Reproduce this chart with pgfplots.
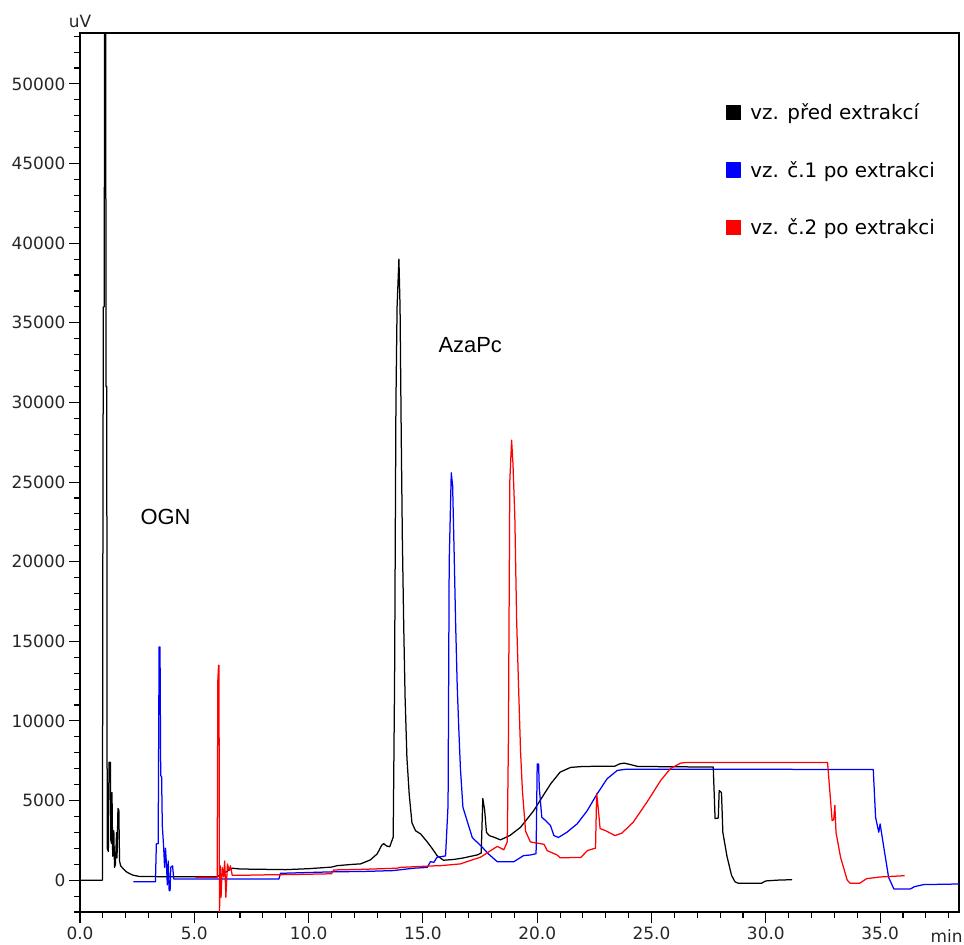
\documentclass[border=0pt]{standalone}
\usepackage{fontspec}
\setmainfont{DejaVu Sans}
\newfontfamily\annfont{Liberation Sans}
\usepackage{pgfplots}
\pgfplotsset{compat=1.18}
\begin{document}
\begin{tikzpicture}
\begin{axis}[
  at={(0,0)}, anchor=south west,
  scale only axis, width=879bp, height=879bp,
  xmin=0, xmax=38.45, ymin=-2000, ymax=53200,
  axis line style={line width=1.2bp},
  xtick={0,5,...,35}, ytick={0,5000,...,50000},
  minor xtick={0,1,...,38}, minor ytick={-2000,-1000,...,53000},
  tick align=outside, major tick length=11bp, minor tick length=6bp,
  every tick/.style={line width=1.1bp, black},
  xtick pos=bottom, ytick pos=left,
  scaled ticks=false,
  /pgf/number format/assume math mode=true,
  xticklabel style={/pgf/number format/.cd, fixed, fixed zerofill, precision=1},
  yticklabel style={/pgf/number format/.cd, fixed, 1000 sep={}},
  tick label style={font=\fontsize{17}{17}\selectfont, text=black!85},
  legend image code/.code={\fill[#1] (0bp,-7bp) rectangle (14bp,7bp);},
  legend style={at={(0.7315,0.924)}, anchor=north west, draw=none, fill=none,
    font=\fontsize{20}{20}\selectfont, row sep=36bp,
    /tikz/every odd column/.append style={column sep=7bp}},
  legend cell align=left,
  every axis plot/.append style={line width=1.25bp, line join=round},
  clip mode=individual,
]
\addplot[black] coordinates {
(0,0) (0.5,0) (0.98,0) (1.00,20000) (1.02,36000) (1.06,36000) (1.08,60000) (1.12,60000)
(1.14,31000) (1.17,31000) (1.19,2000) (1.24,1800) (1.27,7400) (1.33,7400) (1.35,2500)
(1.38,2300) (1.40,5500) (1.43,1500) (1.46,1800) (1.48,3100) (1.51,800) (1.55,1000)
(1.60,3000) (1.62,1400) (1.66,4500) (1.70,4400) (1.73,1200) (1.78,900) (1.90,700)
(2.05,500) (2.3,320) (2.6,230) (3.5,220) (6.0,220) (6.3,450) (6.66,750) (7.0,700)
(8.0,680) (9.0,660) (10.0,720) (11.0,820) (11.25,910) (12.0,1000) (12.27,1020)
(12.7,1270) (13.0,1650) (13.2,2200) (13.29,2300) (13.4,2150) (13.55,2100) (13.70,2700)
(13.76,12400) (13.82,30000) (13.87,36000) (13.95,39000) (14.00,36000) (14.05,28200)
(14.10,21500) (14.16,16000) (14.22,11500) (14.30,7700) (14.40,5400) (14.52,3600)
(14.68,3100) (14.9,2900) (15.19,2400) (15.4,2000) (15.62,1540) (15.9,1250) (16.35,1300)
(16.79,1400) (17.1,1500) (17.37,1580) (17.55,1700) (17.62,5130) (17.70,4400) (17.78,3000)
(17.9,2800) (18.1,2700) (18.39,2530) (18.8,2800) (19.27,3320) (19.85,4370) (20.3,5400)
(20.6,6070) (21.0,6780) (21.46,7080) (22.0,7140) (23.4,7160) (23.6,7300) (23.8,7350)
(24.1,7250) (24.4,7140) (27.7,7100) (27.78,3870) (27.92,3900) (27.96,5630) (28.06,5500)
(28.12,3000) (28.3,1500) (28.5,300) (28.65,-100) (28.8,-200) (29.8,-200) (30.0,-50)
(30.5,0) (31.15,30)
};
\addlegendentry{vz. před extrakcí}
\addplot[blue] coordinates {
(2.34,-100) (3.30,-100) (3.34,2280) (3.42,2280) (3.46,14640) (3.50,14640) (3.53,6570)
(3.57,6500) (3.60,3430) (3.66,2060) (3.70,800) (3.74,2000) (3.78,1030) (3.82,-300)
(3.86,1200) (3.90,-660) (3.94,-660) (3.97,810) (4.05,900) (4.10,80) (4.5,70) (8.7,70)
(8.77,430) (10.0,480) (11.0,520) (12.5,550) (13.7,600) (14.6,750) (15.19,800)
(15.33,1160) (15.48,1120) (15.62,1440) (15.99,1520) (16.10,4710) (16.15,20000)
(16.24,25580) (16.30,24760) (16.36,20940) (16.43,16170) (16.50,12220) (16.57,9490)
(16.64,7030) (16.75,4580) (17.16,2670) (17.52,2180) (17.88,1630) (18.25,1160)
(18.98,1160) (19.4,1540) (19.70,1580) (19.95,1660) (20.00,7300) (20.06,7300) (20.09,5800)
(20.20,3950) (20.4,3700) (20.58,3430) (20.73,2800) (20.93,2680) (21.3,3010) (21.75,3540)
(22.19,4370) (22.62,5420) (23.06,6370) (23.5,6890) (23.9,6970) (34.70,6950) (34.80,3950)
(34.94,3010) (35.00,3530) (35.16,2060) (35.37,180) (35.6,-550) (36.33,-550) (36.5,-410)
(36.9,-280) (38.5,-240)
};
\addlegendentry{vz. č.1 po extrakci}
\addplot[red] coordinates {
(5.05,180) (6.00,180) (6.03,12550) (6.06,13490) (6.08,13490) (6.10,-2500) (6.13,910)
(6.17,-1080) (6.22,800) (6.28,200) (6.33,1200) (6.38,-1080) (6.45,1020) (6.52,600)
(6.58,900) (6.66,300) (6.9,300) (8.0,330) (9.5,360) (11.0,400) (11.1,640) (12.4,680)
(13.87,750) (14.0,800) (15.33,890) (15.77,910) (16.64,1020) (17.0,1200) (17.52,1440)
(17.96,1850) (18.25,2120) (18.54,1910) (18.69,2400) (18.74,8810) (18.80,25030)
(18.88,27630) (18.94,26120) (19.02,22850) (19.10,16300) (19.18,12350) (19.27,8120)
(19.35,5670) (19.49,3080) (19.70,2400) (20.1,2300) (20.30,2250) (20.44,1850) (20.87,1580)
(21.0,1410) (21.9,1420) (22.2,1860) (22.55,2010) (22.60,5440) (22.67,4500) (22.75,3240)
(23.0,3100) (23.4,2800) (23.7,2950) (24.2,3640) (24.8,4900) (25.4,6260) (25.83,7010)
(26.27,7350) (26.5,7390) (32.70,7390) (32.90,3740) (32.97,3800) (33.02,4690) (33.07,3000)
(33.27,1430) (33.56,0) (33.7,-200) (34.1,-200) (34.4,90) (35.0,200) (36.07,280)
};
\addlegendentry{vz. č.2 po extrakci}
\node[font=\annfont\fontsize{22}{22}\selectfont] at (axis cs:3.74,22780) {OGN};
\node[font=\annfont\fontsize{22}{22}\selectfont] at (axis cs:17.07,33590) {AzaPc};
\node[font=\fontsize{17}{17}\selectfont, text=black!85, anchor=north, inner sep=0pt] at (rel axis cs:0.986,0) [yshift=-17bp] {min};
\node[font=\fontsize{17}{17}\selectfont, text=black!85, anchor=south, inner sep=0pt] at (rel axis cs:0,1) [yshift=5bp] {uV};
\end{axis}
\path (-80bp,-33bp) rectangle (884bp,912bp);
\end{tikzpicture}
\end{document}
